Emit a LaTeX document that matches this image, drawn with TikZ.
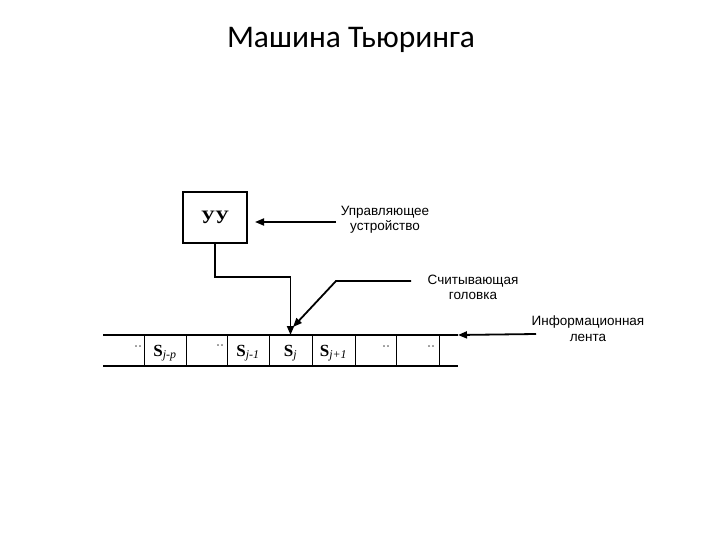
\documentclass[tikz,border=0pt]{standalone}
\usepackage{fontspec}
\setmainfont{Liberation Serif}
\newfontfamily\labfont{Liberation Sans}
\newfontfamily\ttlfont{Carlito}
\usetikzlibrary{arrows.meta}
\begin{document}
\begin{tikzpicture}[x=1pt,y=-1pt,
  arr/.style={line width=1.8pt,-{Triangle[length=9pt,width=7pt]}},
  lab/.style={font=\labfont\fontsize{13.5}{15.5}\selectfont,align=center,inner sep=0pt},
  cell/.style={minimum width=42pt,minimum height=31pt,inner sep=0pt,text height=12pt,text depth=4pt,font=\fontsize{17}{19}\selectfont},
  dots/.style={font=\fontsize{12}{14}\selectfont,inner sep=0pt},
  tape/.style={line width=2pt},
  divider/.style={line width=1pt}]
\useasboundingbox (0,0) rectangle (720,540);
\node[font=\ttlfont\fontsize{31.5}{36}\selectfont,anchor=base] (title) at (351,48) {Машина Тьюринга};
\node[draw,line width=1.6pt,minimum width=64pt,minimum height=51pt,
      font=\bfseries\fontsize{19}{22}\selectfont] (uu) at (215,217.5) {УУ};
% tape
\draw[tape] (103,335) -- (458,335);
\draw[tape] (103,366) -- (458,366);
\foreach \x in {144,186,227,269,312,355,396,439}
  \draw[divider] (\x,335) -- (\x,366);
\node[cell] (c2) at (165,352) {\bfseries S\textsubscript{\normalfont\itshape j-p}};
\node[cell] (c4) at (248,352) {\bfseries S\textsubscript{\normalfont\itshape j-1}};
\node[cell] (c5) at (290.5,352) {\bfseries S\textsubscript{\normalfont\itshape j}};
\node[cell] (c6) at (333.5,352) {\bfseries S\textsubscript{\normalfont\itshape j+1}};
\node[dots] (d1) at (138,348) {··};
\node[dots] (d3) at (220,347) {··};
\node[dots] (d7) at (386,348) {··};
\node[dots] (d8) at (431,348) {··};
\coordinate (tapeend) at (458,335);
\coordinate (head) at (290.5,335);
% labels
\node[lab] (upr) at (385,220) {Управляющее\\устройство};
\node[lab] (sch) at (473,287.5) {Считывающая\\головка};
\node[lab] (inf) at (588,328.5) {Информационная\\лента};
% connectors
\coordinate (u1) at (336,222);
\coordinate (u2) at (255,222);
\draw[arr] (u1) -- (u2);
\coordinate (bend) at (290.5,277);
\draw[arr] (uu.south) |- (bend) -- (head);
\coordinate (s1) at (411,281);
\coordinate (s2) at (336,281);
\coordinate (hd) at (293,327);
\draw[arr] (s1) -- (s2) -- (hd);
\coordinate (i1) at (536,334);
\draw[arr] (i1) -- (tapeend);
\end{tikzpicture}
\end{document}
